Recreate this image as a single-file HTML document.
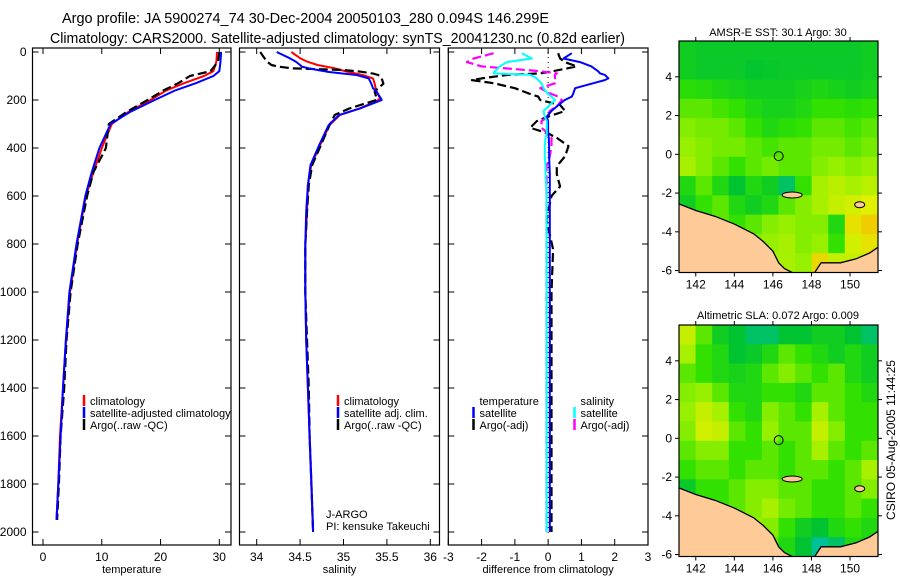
<!DOCTYPE html>
<html><head><meta charset="utf-8"><style>
body{margin:0;background:#fff;}
svg{display:block;font-family:"Liberation Sans",sans-serif;}
</style></head><body>
<svg id="chart" width="900" height="580" viewBox="0 0 900 580">
<text x="62" y="23" font-size="14.5" textLength="487" lengthAdjust="spacingAndGlyphs">Argo profile: JA 5900274_74 30-Dec-2004 20050103_280 0.094S 146.299E</text>
<text x="50" y="43" font-size="14.5" textLength="575" lengthAdjust="spacingAndGlyphs">Climatology: CARS2000. Satellite-adjusted climatology: synTS_20041230.nc (0.82d earlier)</text>
<text x="778" y="36" font-size="11" text-anchor="middle">AMSR-E SST: 30.1 Argo: 30</text>
<text x="778" y="319" font-size="11" text-anchor="middle">Altimetric SLA: 0.072 Argo: 0.009</text>
<text x="0" y="0" font-size="12" text-anchor="middle" transform="translate(895,440) rotate(-90)">CSIRO 05-Aug-2005 11:44:25</text>
<g id="layer"></g>
</svg>
<script>
// ---- Data ----
const depthTicks=[0,200,400,600,800,1000,1200,1400,1600,1800,2000];
const tempTicks=[0,10,20,30];
const salTicks=[34,34.5,35,35.5,36];
const diffTicks=[-3,-2,-1,0,1,2,3];
const climDepth=[0,40,80,100,130,160,200,250,300,400,500,600,800,1000,1200,1400,1600,1800,1950];
const climTemp=[29.6,29.5,29.0,27.4,24,21,18.3,14.5,11.7,10.0,8.6,7.3,5.8,4.6,3.9,3.4,2.9,2.6,2.3];
const satTemp=[30.3,30.2,30.0,29.0,26,22.5,19.0,14.8,11.5,9.6,8.3,7.2,5.7,4.5,3.9,3.4,3.0,2.6,2.3];
const argoTemp=[30.0,29.8,28.5,25.0,23,20.5,17.8,14.2,11.2,10.7,8.6,7.5,5.9,4.7,4.0,3.6,3.0,2.7,2.4];
const salDepth=[0,26,40,54,61,68,75,82,90,96,110,132,151,165,193,200,235,262,304,388,471,554,665,804,1000,1200,1400,1600,1800,2000];
const climSal=[34.40,34.50,34.58,34.70,34.80,34.90,34.97,35.04,35.15,35.22,35.34,35.36,35.37,35.38,35.42,35.40,35.19,34.96,34.84,34.73,34.63,34.59,34.58,34.56,34.56,34.57,34.59,34.61,34.63,34.65];
const satSal=[34.23,34.38,34.45,34.50,34.52,34.60,34.70,34.81,35.00,35.15,35.29,35.32,35.34,35.38,35.43,35.44,35.19,34.95,34.83,34.72,34.62,34.59,34.57,34.56,34.56,34.57,34.59,34.61,34.63,34.65];
const argoSal=[34.04,34.09,34.12,34.17,34.25,34.40,35.00,35.20,35.34,35.40,35.44,35.46,35.40,35.36,35.38,35.38,35.07,34.90,34.84,34.74,34.64,34.60,34.58,34.56,34.56,34.58,34.60,34.61,34.63,34.65];
const diffDepth=[5,27,42,60,80,89,95,110,117,130,151,175,186,200,221,246,269,288,316,339,358,392,434,476,510,560,600,700,822,1000,1300,1600,2000];
const tSatDiff=[0.71,0.46,0.96,1.3,1.5,1.56,1.7,1.81,1.7,1.36,0.81,0.75,0.71,0.5,0.31,0.1,-0.04,0.0,0.0,0.0,0.02,0.03,0.03,0.04,0.05,0.05,0.05,0.05,0.05,0.05,0.05,0.05,0.05];
const tArgoDiff=[0.3,0.36,0.5,0.86,0.15,-0.25,-1.2,-2.0,-2.29,-1.64,-1.0,-0.54,-0.3,-0.24,0.36,0.51,0.0,-0.34,-0.54,0.0,0.26,0.61,0.51,0.26,0.26,0.36,0.1,-0.05,0.15,0.1,0.1,0.1,0.1];
const sSatDiff=[-0.79,-0.49,-1.24,-1.45,-1.6,-1.64,-0.54,-0.34,-0.3,-0.2,-0.14,0.0,0.1,0.21,0.05,-0.14,-0.1,-0.04,-0.04,-0.04,-0.08,-0.1,-0.1,-0.08,-0.08,-0.06,-0.05,-0.05,-0.05,-0.05,-0.05,-0.05,-0.05];
const sArgoDiff=[-1.64,-2.24,-2.44,-2.0,-0.24,0.26,0.2,0.21,0.2,0.21,-0.24,0.1,0.3,0.41,0.3,0.05,0.0,-0.2,-0.2,0.0,0.1,0.1,0.05,-0.05,-0.05,-0.05,-0.05,-0.05,-0.05,-0.05,-0.05,-0.05,-0.05];
const lonTicks=[142,144,146,148,150];
const latTicks=[-6,-4,-2,0,2,4];
const sstGrid=[
[0.40,0.38,0.38,0.38,0.38,0.38,0.38,0.38,0.38,0.38,0.38,0.40],
[0.40,0.38,0.38,0.38,0.36,0.37,0.38,0.38,0.38,0.38,0.38,0.40],
[0.48,0.46,0.44,0.42,0.40,0.40,0.40,0.42,0.44,0.42,0.40,0.42],
[0.55,0.55,0.52,0.50,0.45,0.42,0.42,0.45,0.50,0.50,0.48,0.50],
[0.60,0.58,0.58,0.55,0.50,0.45,0.48,0.50,0.55,0.55,0.52,0.55],
[0.62,0.60,0.58,0.58,0.55,0.52,0.55,0.55,0.58,0.58,0.55,0.58],
[0.65,0.60,0.55,0.50,0.55,0.58,0.55,0.55,0.60,0.62,0.60,0.62],
[0.45,0.55,0.45,0.35,0.45,0.40,0.30,0.50,0.65,0.68,0.65,0.68],
[0.40,0.50,0.55,0.45,0.40,0.45,0.55,0.60,0.65,0.70,0.72,0.75],
[0.60,0.60,0.55,0.50,0.55,0.60,0.62,0.60,0.60,0.45,0.78,0.82],
[0.60,0.60,0.60,0.55,0.60,0.62,0.65,0.60,0.62,0.50,0.72,0.78],
[0.65,0.65,0.65,0.65,0.65,0.65,0.65,0.62,0.80,0.70,0.70,0.70]];
const slaGrid=[
[0.70,0.55,0.40,0.35,0.30,0.30,0.35,0.35,0.40,0.40,0.35,0.30],
[0.65,0.50,0.45,0.35,0.38,0.45,0.55,0.50,0.45,0.40,0.45,0.40],
[0.55,0.50,0.45,0.42,0.45,0.55,0.60,0.55,0.50,0.55,0.45,0.40],
[0.60,0.62,0.55,0.45,0.45,0.50,0.50,0.45,0.55,0.55,0.50,0.45],
[0.62,0.70,0.65,0.50,0.45,0.60,0.55,0.50,0.65,0.55,0.50,0.50],
[0.60,0.72,0.70,0.55,0.50,0.62,0.55,0.55,0.70,0.60,0.50,0.50],
[0.55,0.60,0.60,0.50,0.50,0.55,0.50,0.55,0.65,0.55,0.50,0.55],
[0.50,0.55,0.55,0.50,0.55,0.55,0.50,0.55,0.55,0.50,0.55,0.65],
[0.38,0.50,0.50,0.55,0.60,0.60,0.55,0.55,0.50,0.50,0.55,0.60],
[0.40,0.45,0.50,0.55,0.60,0.65,0.58,0.55,0.50,0.50,0.55,0.50],
[0.45,0.45,0.55,0.55,0.62,0.60,0.50,0.40,0.35,0.45,0.50,0.45],
[0.45,0.45,0.50,0.55,0.55,0.55,0.45,0.35,0.25,0.30,0.45,0.45]];
const coastLon=[141.1,142,143,144,145,145.5,146,146.3,146.6,147.2];
const coastLat=[-2.55,-2.9,-3.2,-3.6,-4.1,-4.5,-5.0,-5.6,-5.9,-6.2];
const eastLandLon=[148.1,148.5,149.5,150.3,151.0,151.6];
const eastLandLat=[-6.2,-5.6,-5.6,-5.4,-5.1,-4.7];
const argoLon=146.299, argoLat=-0.094;

// ---- Drawing ----
const NS='http://www.w3.org/2000/svg';
const layer=document.getElementById('layer');
function mk(tag,attrs,parent){const e=document.createElementNS(NS,tag);for(const k in attrs)e.setAttribute(k,attrs[k]);(parent||layer).appendChild(e);return e;}
function txt(s,attrs,parent){const e=mk('text',attrs,parent);e.textContent=s;return e;}

const yTop=52, yBot=545;
const yDepth=d=>52+d*0.24;

function panel(name,x0,x1,vmin,vmax,ticks,fmt,xlabel,showDepth){
  const g=mk('g',{});
  
  
  const sx=v=>x0+(v-vmin)/(vmax-vmin)*(x1-x0);
  const box=mk('rect',{x:x0,y:yTop-4,width:x1-x0,height:yBot-yTop+4,fill:'none',stroke:'#000','stroke-width':1.2},g);
  
  
  ticks.forEach(t=>{
    const x=sx(t);
    mk('line',{x1:x,x2:x,y1:yBot,y2:yBot-6,stroke:'#000'},g);
    mk('line',{x1:x,x2:x,y1:yTop-4,y2:yTop+2,stroke:'#000'},g);
    const l=txt(fmt(t),{x:x,y:yBot+16,'font-size':12,'text-anchor':'middle'},g);
    
    
  });
  depthTicks.forEach(d=>{
    const y=yDepth(d);
    mk('line',{x1:x0,x2:x0+6,y1:y,y2:y,stroke:'#000'},g);
    mk('line',{x1:x1,x2:x1-6,y1:y,y2:y,stroke:'#000'},g);
    if(showDepth){
      const l=txt(String(d),{x:x0-6,y:y+4,'font-size':12,'text-anchor':'end'},g);
      
      
    }
  });
  const xl=txt(xlabel,{x:(x0+x1)/2,y:573,'font-size':11,'text-anchor':'middle'},g);
  
  
  return {g,sx};
}
function profile(p,vals,depths,color,dashed,name,w){
  const pts=vals.map((v,i)=>p.sx(v).toFixed(1)+','+yDepth(depths[i]).toFixed(1)).join(' ');
  const e=mk('polyline',{points:pts,fill:'none',stroke:color,'stroke-width':w||2,'stroke-dasharray':dashed?'9,4':'none','stroke-linejoin':'round'},p.g);
  
  
}
function legend(g,x,y,items){
  items.forEach((it,i)=>{
    const yy=y+i*12;
    if(it.c) mk('line',{x1:x,x2:x,y1:yy-6,y2:yy+5,stroke:it.c,'stroke-width':2.5},g);
    const t=txt(it.t,{x:x+6,y:yy+4,'font-size':11},g);
    
    
  });
}

const p1=panel('temperature-panel',32.5,231,-1.787,31.99,tempTicks,String,'temperature',true);
profile(p1,climTemp,climDepth,'#f00',false,'climatology-temp-line');
profile(p1,argoTemp,climDepth,'#000',true,'argo-temp-line',2.2);
profile(p1,satTemp,climDepth,'#00f',false,'satellite-temp-line');
legend(p1.g,84,401,[{c:'#f00',t:'climatology'},{c:'#00f',t:'satellite-adjusted climatology'},{c:'#000',t:'Argo(..raw -QC)'}]);

const p2=panel('salinity-panel',239.5,439.5,33.802,36.106,salTicks,String,'salinity',false);
profile(p2,climSal,salDepth,'#f00',false,'climatology-sal-line');
profile(p2,argoSal,salDepth,'#000',true,'argo-sal-line',2.2);
profile(p2,satSal,salDepth,'#00f',false,'satellite-sal-line');
legend(p2.g,338,401,[{c:'#f00',t:'climatology'},{c:'#00f',t:'satellite adj. clim.'},{c:'#000',t:'Argo(..raw -QC)'}]);
const ja=txt('J-ARGO',{x:326,y:518,'font-size':11},p2.g);


const pi=txt('PI: kensuke Takeuchi',{x:326,y:530,'font-size':11},p2.g);



const p3=panel('difference-panel',448.3,648,-3,3,diffTicks,String,'difference from climatology',false);
mk('line',{x1:p3.sx(0),x2:p3.sx(0),y1:yTop,y2:yBot-10,stroke:'#000','stroke-dasharray':'1,4'},p3.g);
profile(p3,tArgoDiff,diffDepth,'#000',true,'argo-temp-diff-line',2.2);
profile(p3,sArgoDiff,diffDepth,'#f0f',true,'argo-sal-diff-line',2.2);
profile(p3,tSatDiff,diffDepth,'#00f',false,'satellite-temp-diff-line');
profile(p3,sSatDiff,diffDepth,'#0ff',false,'satellite-sal-diff-line');
legend(p3.g,473.5,401,[{c:null,t:'temperature'},{c:'#00f',t:'satellite'},{c:'#000',t:'Argo(-adj)'}]);
legend(p3.g,574.5,401,[{c:null,t:'salinity'},{c:'#0ff',t:'satellite'},{c:'#f0f',t:'Argo(-adj)'}]);

// colormap
const stops=[[0,[0,48,160]],[0.2,[0,190,200]],[0.35,[0,195,50]],[0.5,[50,225,0]],[0.62,[150,240,0]],[0.75,[225,240,0]],[0.85,[245,190,0]],[1,[240,100,0]]];
function cmap(v){
  for(let i=1;i<stops.length;i++){ if(v<=stops[i][0]){const a=stops[i-1],b=stops[i],f=(v-a[0])/(b[0]-a[0]);
    return 'rgb('+a[1].map((c,j)=>Math.round(c+(b[1][j]-c)*f)).join(',')+')';}}
  return 'rgb(240,100,0)';
}
function map(name,y0,y1,grid){
  const x0=679,x1=878, lon0=141.13,lon1=151.45, lat0=5.85,lat1=-6.1;
  const g=mk('g',{});
  
  
  const sx=l=>x0+(l-lon0)/(lon1-lon0)*(x1-x0);
  const sy=l=>y0+(lat0-l)/(lat0-lat1)*(y1-y0);
  const clip=mk('clipPath',{id:name+'-clip'},g);
  mk('rect',{x:x0,y:y0,width:x1-x0,height:y1-y0},clip);
  const inner=mk('g',{'clip-path':'url(#'+name+'-clip)'},g);
  const rows=grid.length, cols=grid[0].length;
  const dLon=(lon1-lon0)/cols, dLat=(lat0-lat1)/rows;
  grid.forEach((row,r)=>row.forEach((v,c)=>{
    const xa=sx(lon0+c*dLon), xb=sx(lon0+(c+1)*dLon), ya=sy(lat0-r*dLat), yb=sy(lat0-(r+1)*dLat);
    const cell=mk('rect',{x:xa,y:ya,width:xb-xa+0.6,height:yb-ya+0.6,fill:cmap(v)},inner);
    
    
  }));
  const land1='M'+sx(lon0-1)+','+sy(-8)+' L'+sx(lon0-1)+','+sy(coastLat[0])+' '+coastLon.map((l,i)=>sx(l)+','+sy(coastLat[i])).join(' ')+' L'+sx(147.5)+','+sy(-8)+'Z';
  const l1=mk('path',{d:land1,fill:'#fdca98',stroke:'#000','stroke-width':1.3},inner);
  
  
  const land2='M'+eastLandLon.map((l,i)=>sx(l)+','+sy(eastLandLat[i])).join(' L')+' L'+sx(152)+','+sy(-8)+' L'+sx(148)+','+sy(-8)+'Z';
  const l2=mk('path',{d:land2,fill:'#fdca98',stroke:'#000','stroke-width':1.3},inner);
  
  
  const isl=mk('ellipse',{cx:sx(147),cy:sy(-2.1),rx:10,ry:3,fill:'#fdca98',stroke:'#000'},inner);
  
  
  const isl2=mk('ellipse',{cx:sx(150.5),cy:sy(-2.6),rx:5,ry:3,fill:'#fdca98',stroke:'#000'},inner);
  
  
  const m=mk('circle',{cx:sx(argoLon),cy:sy(argoLat),r:4.5,fill:'none',stroke:'#000','stroke-width':1},g);
  
  
  const fr=mk('rect',{x:x0,y:y0,width:x1-x0,height:y1-y0,fill:'none',stroke:'#000','stroke-width':1.2},g);
  
  
  lonTicks.forEach(l=>{const x=sx(l);
    mk('line',{x1:x,x2:x,y1:y1,y2:y1+4,stroke:'#000'},g);
    mk('line',{x1:x,x2:x,y1:y0,y2:y0-4,stroke:'#000'},g);
    const t=txt(String(l),{x:x,y:y1+16,'font-size':12,'text-anchor':'middle'},g);
    
    });
  latTicks.forEach(l=>{const y=sy(l);
    mk('line',{x1:x0,x2:x0-4,y1:y,y2:y,stroke:'#000'},g);
    mk('line',{x1:x1,x2:x1+4,y1:y,y2:y,stroke:'#000'},g);
    const t=txt(String(l),{x:x0-7,y:y+4,'font-size':12,'text-anchor':'end'},g);
    
    });
}
map('sst-map',41,272.5,sstGrid);
map('sla-map',325,556.5,slaGrid);
</script>
</body></html>
